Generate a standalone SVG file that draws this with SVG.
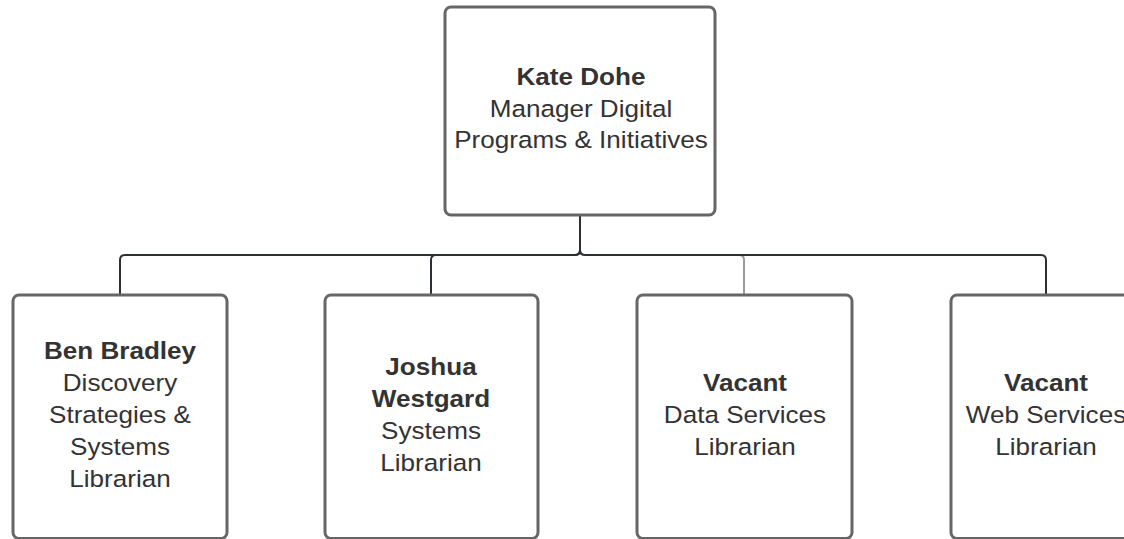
<svg xmlns="http://www.w3.org/2000/svg" width="1124" height="539" viewBox="0 0 1124 539">
<style>
.box{fill:#fff;stroke:#666;stroke-width:3}
.c{fill:none;stroke:#2b2f36;stroke-width:2}
.cg{fill:none;stroke:#9a9a9a;stroke-width:2}
text{font-family:"Liberation Sans",Arial,sans-serif;font-size:23.5px;fill:#333;text-anchor:middle}
.b{font-weight:bold}
</style>
<rect width="1124" height="539" fill="#fff"/>
<g id="connectors">
<path class="cg" d="M580,216 V250 Q580,255 585,255 H739 Q744,255 744,260 V295"/>
<path class="c" d="M580,216 V250 Q580,255 575,255 H125 Q120,255 120,260 V295"/>
<path class="c" d="M580,216 V250 Q580,255 575,255 H436 Q431,255 431,260 V295"/>
<path class="c" d="M580,216 V250 Q580,255 585,255 H1041 Q1046,255 1046,260 V295"/>
</g>
<g id="kate">
<rect class="box" x="445" y="7" width="270" height="208" rx="6"/>
<g transform="translate(581,0) scale(1.11,1)">
<text class="b" x="0" y="85">Kate Dohe</text>
<text x="0" y="117">Manager Digital</text>
<text x="0" y="148">Programs &amp; Initiatives</text>
</g>
</g>
<g id="ben">
<rect class="box" x="13" y="295" width="214" height="243.5" rx="6"/>
<g transform="translate(120,0) scale(1.11,1)">
<text class="b" x="0" y="359">Ben Bradley</text>
<text x="0" y="391">Discovery</text>
<text x="0" y="423">Strategies &amp;</text>
<text x="0" y="455">Systems</text>
<text x="0" y="487">Librarian</text>
</g>
</g>
<g id="joshua">
<rect class="box" x="325" y="295" width="213" height="243.5" rx="6"/>
<g transform="translate(431,0) scale(1.11,1)">
<text class="b" x="0" y="375">Joshua</text>
<text class="b" x="0" y="407">Westgard</text>
<text x="0" y="439">Systems</text>
<text x="0" y="471">Librarian</text>
</g>
</g>
<g id="data">
<rect class="box" x="637" y="295" width="215" height="243.5" rx="6"/>
<g transform="translate(745,0) scale(1.11,1)">
<text class="b" x="0" y="391">Vacant</text>
<text x="0" y="423">Data Services</text>
<text x="0" y="455">Librarian</text>
</g>
</g>
<g id="web">
<rect class="box" x="951" y="295" width="215" height="243.5" rx="6"/>
<g transform="translate(1046,0) scale(1.11,1)">
<text class="b" x="0" y="391">Vacant</text>
<text x="0" y="423">Web Services</text>
<text x="0" y="455">Librarian</text>
</g>
</g>
</svg>
